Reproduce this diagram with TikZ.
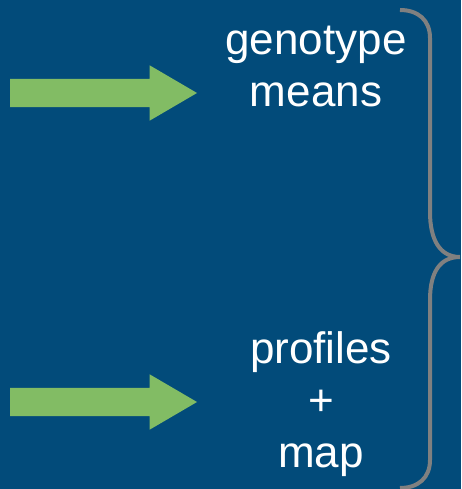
\documentclass[tikz,border=0pt]{standalone}
\usepackage{fontspec}
\setmainfont{Liberation Sans}
\usetikzlibrary{shapes.arrows}
\definecolor{bgblue}{RGB}{2,75,122}
\definecolor{arrowgreen}{RGB}{130,188,100}
\definecolor{bracegray}{RGB}{128,128,128}
\tikzset{
  fatarrow/.style={single arrow, fill=arrowgreen, draw=none, inner sep=0pt,
    outer sep=0pt, text height=14pt, text depth=14pt, text width=0pt,
    minimum height=187pt, minimum width=0pt, single arrow head extend=13.5pt,
    single arrow tip angle=60.6, anchor=west},
  label/.style={text=white, align=center, inner sep=0pt,
    font=\fontsize{44pt}{52pt}\selectfont},
  bracestroke/.style={draw=bracegray, line width=4pt}
}
\begin{document}
\begin{tikzpicture}[x=1pt,y=-1pt]
\fill[bgblue] (0,0) rectangle (461,489);
\useasboundingbox (0,0) rectangle (461,489);
\node[fatarrow] (a1) at (10,93) {};
\node[fatarrow] (a2) at (10,402) {};
\node[label, anchor=base] (t1) at (316,107) {genotype\\means};
\node[label, anchor=base] (t2) at (321,467) {profiles\\+\\map};
\coordinate (btop) at (400,10);
\coordinate (bmid) at (460,257);
\coordinate (bbot) at (400,488);
\draw[bracestroke] (btop) .. controls (418,10) and (430,20) .. (430,38)
  -- (430,212) .. controls (430,240) and (440,257) .. (bmid)
  .. controls (440,257) and (430,272) .. (430,300)
  -- (430,460) .. controls (430,478) and (418,488) .. (bbot);
\end{tikzpicture}
\end{document}
